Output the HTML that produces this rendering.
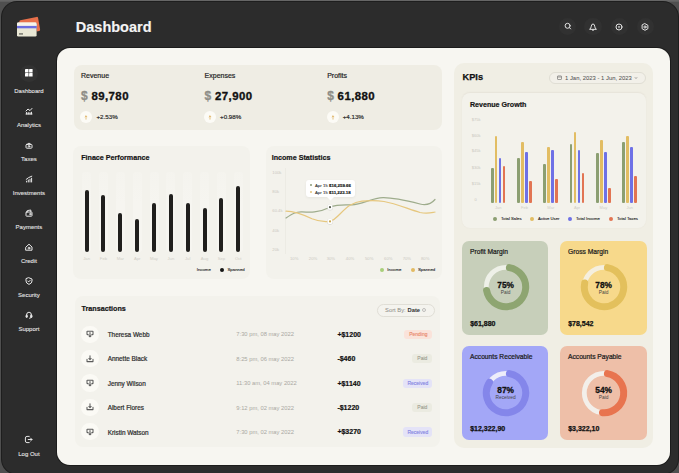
<!DOCTYPE html>
<html><head><meta charset="utf-8">
<style>
*{margin:0;padding:0;box-sizing:border-box}
html,body{width:679px;height:473px;overflow:hidden;background:#4f4f4f;font-family:"Liberation Sans",sans-serif}
.a{position:absolute}
.t{position:absolute;white-space:nowrap;line-height:1}
svg{position:absolute;overflow:visible}
</style></head><body>

<div class="a" style="left:0;top:0;width:679px;height:2px;background:linear-gradient(#6a6a6a,#5a5a5a)"></div>
<div class="a" style="left:1.5px;top:2px;width:676.5px;height:471.5px;border-radius:15px;background:#2c2c2c;box-shadow:0 0 0 1px #1e1e1e"></div>
<svg style="left:14px;top:14px" width="30" height="26" viewBox="0 0 30 26">
  <path d="M5.2 9 L5.3 7.4 Q5.4 6.5 6.3 6.3 L22.6 2.9 Q23.8 2.7 24.1 3.9 L26.1 15.4 Q26.3 16.6 25.1 16.9 L22.6 17.5 L22.6 9 Z" fill="#e8704b"/>
  <rect x="3" y="8.6" width="19.6" height="14" rx="1.4" fill="#e9e7d5"/>
  <path d="M3 11.9 V10 Q3 8.6 4.4 8.6 H21.2 Q22.6 8.6 22.6 10 V11.9 Z" fill="#f7f4ea"/>
  <rect x="3" y="11.9" width="19.6" height="2.4" fill="#6b6ee0"/>
  <rect x="5" y="19" width="4" height="1.8" fill="#8a8a80"/>
</svg>
<div class="t" style="left:75.80px;top:19.73px;font-size:14.5px;font-weight:700;color:#f4f4f4;-webkit-text-stroke:0.15px #f4f4f4;">Dashboard</div>
<div class="a" style="left:558.90px;top:17.80px;width:17.60px;height:17.60px;background:#313131;border-radius:50%;"></div>
<div class="a" style="left:584.40px;top:17.80px;width:17.60px;height:17.60px;background:#313131;border-radius:50%;"></div>
<div class="a" style="left:610.60px;top:17.80px;width:17.60px;height:17.60px;background:#313131;border-radius:50%;"></div>
<div class="a" style="left:636.60px;top:17.80px;width:17.60px;height:17.60px;background:#313131;border-radius:50%;"></div>
<svg style="left:563.7px;top:22.2px" width="8" height="8" viewBox="0 0 8 8" fill="none" stroke="#e4e4e4" stroke-width="1" stroke-linecap="round" stroke-linejoin="round"><circle cx="3.6" cy="3.8" r="2.5"/><path d="M5.5 5.7 L6.6 6.9"/></svg>
<svg style="left:589.2px;top:22.6px" width="8" height="8" viewBox="0 0 8 8" fill="none" stroke="#e4e4e4" stroke-width="1" stroke-linecap="round" stroke-linejoin="round"><path d="M0.9 6.1 Q2.1 5.2 2.3 3.2 Q2.5 1 4 1 Q5.5 1 5.7 3.2 Q5.9 5.2 7.1 6.1 Z"/><path d="M3.4 7.1 H4.6"/></svg>
<svg style="left:615.4px;top:22.9px" width="8" height="8" viewBox="0 0 8 8" fill="none" stroke="#e4e4e4" stroke-width="1" stroke-linecap="round" stroke-linejoin="round"><circle cx="4" cy="4" r="3"/><path d="M3.3 3.6 H4.7 M3.5 4.7 H4.5" stroke-width="0.7"/></svg>
<svg style="left:641.0px;top:22.5px" width="8" height="8" viewBox="0 0 8 8" fill="none" stroke="#e4e4e4" stroke-width="1" stroke-linecap="round" stroke-linejoin="round"><path d="M4 0.7 L6.9 2.3 V5.7 L4 7.3 L1.1 5.7 V2.3 Z"/><circle cx="4" cy="4" r="1.1"/></svg>
<div class="a" style="left:20.20px;top:64.50px;width:17.40px;height:17.40px;background:#323232;border-radius:50%;"></div>
<svg style="left:25.099999999999998px;top:69.4px" width="7.6" height="7.6" viewBox="0 0 8 8"><rect x="0" y="0" width="3.7" height="3.7" rx=".4" fill="#fff"/><rect x="4.3" y="0" width="3.7" height="3.7" rx=".4" fill="#fff"/><rect x="0" y="4.3" width="3.7" height="3.7" rx=".4" fill="#fff"/><rect x="4.3" y="4.3" width="3.7" height="3.7" rx=".4" fill="#fff"/></svg>
<div class="t" style="left:-71.10px;width:200px;text-align:center;top:87.62px;font-size:6.0px;font-weight:400;color:#e4e4e4;-webkit-text-stroke:0.1px #e4e4e4;">Dashboard</div>
<div class="t" style="left:-71.10px;width:200px;text-align:center;top:121.72px;font-size:6.0px;font-weight:400;color:#e4e4e4;-webkit-text-stroke:0.1px #e4e4e4;">Analytics</div>
<svg style="left:24.9px;top:106.80px" width="8" height="8" viewBox="0 0 8 8" fill="none" stroke="#e8e8e8" stroke-width="1" stroke-linecap="round" stroke-linejoin="round"><path d="M1 4 L3 2 L5 3.6 L7 1.4"/><path d="M1 7 H7 M1.6 5.4 V7 M3.3 5.6 V7 M5 5.6 V7 M6.5 5.2 V7"/></svg>
<div class="t" style="left:-71.10px;width:200px;text-align:center;top:155.82px;font-size:6.0px;font-weight:400;color:#e4e4e4;-webkit-text-stroke:0.1px #e4e4e4;">Taxes</div>
<svg style="left:24.9px;top:140.90px" width="8" height="8" viewBox="0 0 8 8" fill="none" stroke="#e8e8e8" stroke-width="1" stroke-linecap="round" stroke-linejoin="round"><path d="M2.2 3.2 Q4 0.6 5.8 3.2"/><rect x="1" y="3.4" width="6" height="3.8" rx="0.8"/><circle cx="4" cy="5.3" r="0.8"/></svg>
<div class="t" style="left:-71.10px;width:200px;text-align:center;top:189.92px;font-size:6.0px;font-weight:400;color:#e4e4e4;-webkit-text-stroke:0.1px #e4e4e4;">Investments</div>
<svg style="left:24.9px;top:175.00px" width="8" height="8" viewBox="0 0 8 8" fill="none" stroke="#e8e8e8" stroke-width="1" stroke-linecap="round" stroke-linejoin="round"><path d="M1.2 4.4 L3.6 2.6 L6.8 1.2"/><path d="M1.6 7 V6.2 M3.3 7 V5 M5 7 V4.2 M6.6 7 V3.2"/></svg>
<div class="t" style="left:-71.10px;width:200px;text-align:center;top:224.02px;font-size:6.0px;font-weight:400;color:#e4e4e4;-webkit-text-stroke:0.1px #e4e4e4;">Payments</div>
<svg style="left:24.9px;top:209.10px" width="8" height="8" viewBox="0 0 8 8" fill="none" stroke="#e8e8e8" stroke-width="1" stroke-linecap="round" stroke-linejoin="round"><rect x="1" y="3" width="6" height="4.2" rx="0.6"/><path d="M2.3 3 V1.6 L5.8 1 V3"/><circle cx="5.3" cy="5.1" r="0.7"/></svg>
<div class="t" style="left:-71.10px;width:200px;text-align:center;top:258.12px;font-size:6.0px;font-weight:400;color:#e4e4e4;-webkit-text-stroke:0.1px #e4e4e4;">Credit</div>
<svg style="left:24.9px;top:243.20px" width="8" height="8" viewBox="0 0 8 8" fill="none" stroke="#e8e8e8" stroke-width="1" stroke-linecap="round" stroke-linejoin="round"><path d="M1 4 L4 1.2 L7 4 V7.2 H1 Z"/><circle cx="4" cy="5.1" r="0.9"/></svg>
<div class="t" style="left:-71.10px;width:200px;text-align:center;top:292.22px;font-size:6.0px;font-weight:400;color:#e4e4e4;-webkit-text-stroke:0.1px #e4e4e4;">Security</div>
<svg style="left:24.9px;top:277.30px" width="8" height="8" viewBox="0 0 8 8" fill="none" stroke="#e8e8e8" stroke-width="1" stroke-linecap="round" stroke-linejoin="round"><path d="M4 0.8 L7 2 V4 Q7 6.3 4 7.4 Q1 6.3 1 4 V2 Z"/><path d="M2.8 4 L3.7 4.9 L5.3 3.2"/></svg>
<div class="t" style="left:-71.10px;width:200px;text-align:center;top:326.32px;font-size:6.0px;font-weight:400;color:#e4e4e4;-webkit-text-stroke:0.1px #e4e4e4;">Support</div>
<svg style="left:24.9px;top:311.40px" width="8" height="8" viewBox="0 0 8 8" fill="none" stroke="#e8e8e8" stroke-width="1" stroke-linecap="round" stroke-linejoin="round"><path d="M1.6 4.6 V4 Q1.6 1.2 4 1.2 Q6.4 1.2 6.4 4 V4.6"/><rect x="1" y="4.2" width="1.3" height="2.2" rx=".4" fill="#e4e4e4"/><rect x="5.7" y="4.2" width="1.3" height="2.2" rx=".4" fill="#e4e4e4"/><path d="M6.2 6.4 Q6.2 7.3 4.6 7.3"/></svg>
<svg style="left:24.4px;top:435.3px" width="9" height="9" viewBox="0 0 9 9" fill="none" stroke="#e4e4e4" stroke-width="1" stroke-linecap="round" stroke-linejoin="round"><path d="M5.2 1.4 H3 Q1.4 1.4 1.4 3 V6 Q1.4 7.6 3 7.6 H5.2"/><path d="M4.2 4.5 H8 M6.6 3.1 L8 4.5 L6.6 5.9"/></svg>
<div class="t" style="left:-71.10px;width:200px;text-align:center;top:450.92px;font-size:6.0px;font-weight:400;color:#e4e4e4;-webkit-text-stroke:0.1px #e4e4e4;">Log Out</div>
<div class="a" style="left:57.4px;top:47.9px;width:612.2px;height:416.7px;border-radius:13px;background:#f7f6f1;box-shadow:0 0 0 1px #1c1c1c"></div>
<div class="a" style="left:74.00px;top:64.50px;width:368.30px;height:65.00px;background:#efede4;border-radius:8px;"></div>
<div class="t" style="left:81.00px;top:71.57px;font-size:7.0px;font-weight:400;color:#1f1f1f;-webkit-text-stroke:0.2px #1f1f1f;">Revenue</div>
<div class="t" style="left:81.00px;top:90.44px;font-size:12.0px;font-weight:700;color:#8e8d87;-webkit-text-stroke:0.3px #8e8d87;">$</div>
<div class="t" style="left:91.40px;top:90.85px;font-size:11.4px;font-weight:700;color:#111;letter-spacing:0.45px;-webkit-text-stroke:0.35px #111;">89,780</div>
<div class="a" style="left:80.40px;top:111.10px;width:12.00px;height:12.00px;background:#fcfbf6;border-radius:50%;"></div>
<svg style="left:84.4px;top:114.8px" width="4" height="5" viewBox="0 0 4 5" fill="none" stroke="#dcae5a" stroke-width="0.75" stroke-linecap="round"><path d="M2 4.2 V0.9 M1.1 1.8 L2 0.9 L2.9 1.8"/></svg>
<div class="t" style="left:96.50px;top:114.35px;font-size:6.2px;font-weight:400;color:#2a2a2a;-webkit-text-stroke:0.18px #2a2a2a;">+2.53%</div>
<div class="t" style="left:204.60px;top:71.57px;font-size:7.0px;font-weight:400;color:#1f1f1f;-webkit-text-stroke:0.2px #1f1f1f;">Expenses</div>
<div class="t" style="left:204.60px;top:90.44px;font-size:12.0px;font-weight:700;color:#8e8d87;-webkit-text-stroke:0.3px #8e8d87;">$</div>
<div class="t" style="left:215.00px;top:90.85px;font-size:11.4px;font-weight:700;color:#111;letter-spacing:0.45px;-webkit-text-stroke:0.35px #111;">27,900</div>
<div class="a" style="left:204.00px;top:111.10px;width:12.00px;height:12.00px;background:#fcfbf6;border-radius:50%;"></div>
<svg style="left:208.0px;top:114.8px" width="4" height="5" viewBox="0 0 4 5" fill="none" stroke="#dcae5a" stroke-width="0.75" stroke-linecap="round"><path d="M2 4.2 V0.9 M1.1 1.8 L2 0.9 L2.9 1.8"/></svg>
<div class="t" style="left:220.10px;top:114.35px;font-size:6.2px;font-weight:400;color:#2a2a2a;-webkit-text-stroke:0.18px #2a2a2a;">+0.98%</div>
<div class="t" style="left:327.20px;top:71.57px;font-size:7.0px;font-weight:400;color:#1f1f1f;-webkit-text-stroke:0.2px #1f1f1f;">Profits</div>
<div class="t" style="left:327.20px;top:90.44px;font-size:12.0px;font-weight:700;color:#8e8d87;-webkit-text-stroke:0.3px #8e8d87;">$</div>
<div class="t" style="left:337.60px;top:90.85px;font-size:11.4px;font-weight:700;color:#111;letter-spacing:0.45px;-webkit-text-stroke:0.35px #111;">61,880</div>
<div class="a" style="left:326.60px;top:111.10px;width:12.00px;height:12.00px;background:#fcfbf6;border-radius:50%;"></div>
<svg style="left:330.59999999999997px;top:114.8px" width="4" height="5" viewBox="0 0 4 5" fill="none" stroke="#dcae5a" stroke-width="0.75" stroke-linecap="round"><path d="M2 4.2 V0.9 M1.1 1.8 L2 0.9 L2.9 1.8"/></svg>
<div class="t" style="left:342.70px;top:114.35px;font-size:6.2px;font-weight:400;color:#2a2a2a;-webkit-text-stroke:0.18px #2a2a2a;">+4.13%</div>
<div class="a" style="left:72.60px;top:146.00px;width:177.90px;height:132.60px;background:#f3f2ec;border-radius:8px;"></div>
<div class="t" style="left:81.20px;top:154.85px;font-size:7.15px;font-weight:700;color:#151515;-webkit-text-stroke:0.2px #151515;">Finace Performance</div>
<div class="a" style="left:82.10px;top:171.80px;width:9.00px;height:80.00px;background:linear-gradient(rgba(248,247,243,0.3),#f6f5f0 40%);border-radius:3px;"></div>
<div class="a" style="left:84.55px;top:189.80px;width:4.10px;height:61.80px;background:#201f1d;border-radius:2.05px;"></div>
<div class="t" style="left:-13.40px;width:200px;text-align:center;top:256.74px;font-size:4.2px;font-weight:400;color:#cfcdc6;">Jan</div>
<div class="a" style="left:98.95px;top:171.80px;width:9.00px;height:80.00px;background:linear-gradient(rgba(248,247,243,0.3),#f6f5f0 40%);border-radius:3px;"></div>
<div class="a" style="left:101.40px;top:195.00px;width:4.10px;height:56.60px;background:#201f1d;border-radius:2.05px;"></div>
<div class="t" style="left:3.45px;width:200px;text-align:center;top:256.74px;font-size:4.2px;font-weight:400;color:#cfcdc6;">Feb</div>
<div class="a" style="left:115.80px;top:171.80px;width:9.00px;height:80.00px;background:linear-gradient(rgba(248,247,243,0.3),#f6f5f0 40%);border-radius:3px;"></div>
<div class="a" style="left:118.25px;top:212.60px;width:4.10px;height:39.00px;background:#201f1d;border-radius:2.05px;"></div>
<div class="t" style="left:20.30px;width:200px;text-align:center;top:256.74px;font-size:4.2px;font-weight:400;color:#cfcdc6;">Mar</div>
<div class="a" style="left:132.65px;top:171.80px;width:9.00px;height:80.00px;background:linear-gradient(rgba(248,247,243,0.3),#f6f5f0 40%);border-radius:3px;"></div>
<div class="a" style="left:135.10px;top:219.40px;width:4.10px;height:32.20px;background:#201f1d;border-radius:2.05px;"></div>
<div class="t" style="left:37.15px;width:200px;text-align:center;top:256.74px;font-size:4.2px;font-weight:400;color:#cfcdc6;">Apr</div>
<div class="a" style="left:149.50px;top:171.80px;width:9.00px;height:80.00px;background:linear-gradient(rgba(248,247,243,0.3),#f6f5f0 40%);border-radius:3px;"></div>
<div class="a" style="left:151.95px;top:203.20px;width:4.10px;height:48.40px;background:#201f1d;border-radius:2.05px;"></div>
<div class="t" style="left:54.00px;width:200px;text-align:center;top:256.74px;font-size:4.2px;font-weight:400;color:#cfcdc6;">May</div>
<div class="a" style="left:166.35px;top:171.80px;width:9.00px;height:80.00px;background:linear-gradient(rgba(248,247,243,0.3),#f6f5f0 40%);border-radius:3px;"></div>
<div class="a" style="left:168.80px;top:193.70px;width:4.10px;height:57.90px;background:#201f1d;border-radius:2.05px;"></div>
<div class="t" style="left:70.85px;width:200px;text-align:center;top:256.74px;font-size:4.2px;font-weight:400;color:#cfcdc6;">Jun</div>
<div class="a" style="left:183.20px;top:171.80px;width:9.00px;height:80.00px;background:linear-gradient(rgba(248,247,243,0.3),#f6f5f0 40%);border-radius:3px;"></div>
<div class="a" style="left:185.65px;top:203.20px;width:4.10px;height:48.40px;background:#201f1d;border-radius:2.05px;"></div>
<div class="t" style="left:87.70px;width:200px;text-align:center;top:256.74px;font-size:4.2px;font-weight:400;color:#cfcdc6;">Jul</div>
<div class="a" style="left:200.05px;top:171.80px;width:9.00px;height:80.00px;background:linear-gradient(rgba(248,247,243,0.3),#f6f5f0 40%);border-radius:3px;"></div>
<div class="a" style="left:202.50px;top:208.00px;width:4.10px;height:43.60px;background:#201f1d;border-radius:2.05px;"></div>
<div class="t" style="left:104.55px;width:200px;text-align:center;top:256.74px;font-size:4.2px;font-weight:400;color:#cfcdc6;">Aug</div>
<div class="a" style="left:216.90px;top:171.80px;width:9.00px;height:80.00px;background:linear-gradient(rgba(248,247,243,0.3),#f6f5f0 40%);border-radius:3px;"></div>
<div class="a" style="left:219.35px;top:198.00px;width:4.10px;height:53.60px;background:#201f1d;border-radius:2.05px;"></div>
<div class="t" style="left:121.40px;width:200px;text-align:center;top:256.74px;font-size:4.2px;font-weight:400;color:#cfcdc6;">Sep</div>
<div class="a" style="left:233.75px;top:171.80px;width:9.00px;height:80.00px;background:linear-gradient(rgba(248,247,243,0.3),#f6f5f0 40%);border-radius:3px;"></div>
<div class="a" style="left:236.20px;top:186.30px;width:4.10px;height:65.30px;background:#201f1d;border-radius:2.05px;"></div>
<div class="t" style="left:138.25px;width:200px;text-align:center;top:256.74px;font-size:4.2px;font-weight:400;color:#cfcdc6;">Oct</div>
<div class="t" style="left:196.70px;top:267.96px;font-size:4.3px;font-weight:400;color:#222;-webkit-text-stroke:0.1px #222;">Income</div>
<div class="a" style="left:220.00px;top:268.00px;width:4.20px;height:4.20px;background:#151515;border-radius:50%;"></div>
<div class="t" style="left:227.50px;top:267.96px;font-size:4.3px;font-weight:400;color:#222;-webkit-text-stroke:0.1px #222;">Spanned</div>
<div class="a" style="left:265.70px;top:146.00px;width:176.00px;height:132.60px;background:#f3f2ec;border-radius:8px;"></div>
<div class="t" style="left:271.70px;top:154.65px;font-size:7.15px;font-weight:700;color:#151515;-webkit-text-stroke:0.2px #151515;">Income Statistics</div>
<div class="t" style="left:272.30px;top:170.54px;font-size:4.2px;font-weight:400;color:#cac8c1;">100k</div>
<div class="t" style="left:272.30px;top:190.14px;font-size:4.2px;font-weight:400;color:#cac8c1;">80k</div>
<div class="t" style="left:272.30px;top:209.34px;font-size:4.2px;font-weight:400;color:#cac8c1;">60.4k</div>
<div class="t" style="left:272.30px;top:228.94px;font-size:4.2px;font-weight:400;color:#cac8c1;">40k</div>
<div class="t" style="left:272.30px;top:248.34px;font-size:4.2px;font-weight:400;color:#cac8c1;">20k</div>
<div class="a" style="left:285.30px;top:168.00px;width:0.60px;height:86.00px;background:#ecebe4;border-radius:0px;"></div>
<div class="t" style="left:194.20px;width:200px;text-align:center;top:256.64px;font-size:4.2px;font-weight:400;color:#cbc9c2;">10%</div>
<div class="t" style="left:213.00px;width:200px;text-align:center;top:256.64px;font-size:4.2px;font-weight:400;color:#cbc9c2;">20%</div>
<div class="t" style="left:230.90px;width:200px;text-align:center;top:256.64px;font-size:4.2px;font-weight:400;color:#cbc9c2;">30%</div>
<div class="t" style="left:250.00px;width:200px;text-align:center;top:256.64px;font-size:4.2px;font-weight:400;color:#cbc9c2;">40%</div>
<div class="t" style="left:269.20px;width:200px;text-align:center;top:256.64px;font-size:4.2px;font-weight:400;color:#cbc9c2;">50%</div>
<div class="t" style="left:288.30px;width:200px;text-align:center;top:256.64px;font-size:4.2px;font-weight:400;color:#cbc9c2;">60%</div>
<div class="t" style="left:306.90px;width:200px;text-align:center;top:256.64px;font-size:4.2px;font-weight:400;color:#cbc9c2;">70%</div>
<div class="t" style="left:325.20px;width:200px;text-align:center;top:256.64px;font-size:4.2px;font-weight:400;color:#cbc9c2;">80%</div>
<svg style="left:0;top:0" width="679" height="473" viewBox="0 0 679 473" fill="none" stroke-linecap="round"><path d="M286 218 C292 214 296 211.5 302 211.8 C310 212.5 318 213 330 207.2 C338 204 344 205 352 204.8 C362 204.5 372 198 383 197.7 C394 197.5 408 201 420 204 C428 206 432 203 435 199.5" stroke="#9eac8c" stroke-width="1.2"/><path d="M286 211.2 C296 211.5 304 215 312 218.8 C320 222 326 222 330 221.4 C336 220.5 342 210 350 205.3 C354 203 357 201.8 362 201.2 C372 200.2 378 200.6 384 201.5 C396 203.5 408 209 420 212.5 C428 214 432 212.5 435 212" stroke="#e6c77e" stroke-width="1.2"/></svg>
<div class="a" style="left:306.2px;top:179.6px;width:48.6px;height:17.4px;background:#fff;border-radius:3px;box-shadow:0 1px 3px rgba(0,0,0,0.06)"></div>
<svg style="left:326.5px;top:196.9px" width="7" height="4" viewBox="0 0 7 4"><path d="M0 0 L3.5 3.4 L7 0 Z" fill="#fff"/></svg>
<div class="a" style="left:310.30px;top:184.30px;width:2.20px;height:2.20px;background:#8a9a77;border-radius:50%;"></div>
<div class="t" style="left:315.00px;top:183.96px;font-size:4.3px;font-weight:400;color:#333;-webkit-text-stroke:0.1px #333;">Apr 15</div>
<div class="t" style="left:329.00px;top:183.88px;font-size:4.4px;font-weight:700;color:#111;-webkit-text-stroke:0.15px #111;">$16,259.66</div>
<div class="a" style="left:310.30px;top:191.00px;width:2.20px;height:2.20px;background:#e3c27a;border-radius:50%;"></div>
<div class="t" style="left:315.00px;top:190.66px;font-size:4.3px;font-weight:400;color:#333;-webkit-text-stroke:0.1px #333;">Apr 15</div>
<div class="t" style="left:329.00px;top:190.58px;font-size:4.4px;font-weight:700;color:#111;-webkit-text-stroke:0.15px #111;">$11,223.18</div>
<svg style="left:0;top:0" width="679" height="473" viewBox="0 0 679 473"><defs><filter id="sh" x="-1" y="-1" width="3" height="3"><feGaussianBlur stdDeviation="0.6"/></filter></defs><circle cx="330" cy="207.6" r="3" fill="rgba(0,0,0,0.12)" filter="url(#sh)"/><circle cx="330" cy="207.2" r="2.6" fill="#fff"/><circle cx="330" cy="207.2" r="1.1" fill="#555a4c"/><circle cx="330" cy="221.8" r="3" fill="rgba(0,0,0,0.12)" filter="url(#sh)"/><circle cx="330" cy="221.4" r="2.6" fill="#fff"/><circle cx="330" cy="221.4" r="1.1" fill="#c9a853"/></svg>
<div class="a" style="left:379.80px;top:268.40px;width:4.00px;height:4.00px;background:#a8cf7a;border-radius:50%;"></div>
<div class="t" style="left:387.30px;top:268.26px;font-size:4.3px;font-weight:400;color:#222;-webkit-text-stroke:0.1px #222;">Income</div>
<div class="a" style="left:410.80px;top:268.40px;width:4.00px;height:4.00px;background:#e3bb63;border-radius:50%;"></div>
<div class="t" style="left:418.00px;top:268.26px;font-size:4.3px;font-weight:400;color:#222;-webkit-text-stroke:0.1px #222;">Spanned</div>
<div class="a" style="left:75.30px;top:296.00px;width:364.90px;height:151.00px;background:#f3f2ec;border-radius:8px;"></div>
<div class="t" style="left:81.50px;top:304.81px;font-size:7.2px;font-weight:700;color:#151515;-webkit-text-stroke:0.2px #151515;">Transactions</div>
<div class="a" style="left:376.8px;top:303.8px;width:58.3px;height:12.8px;border-radius:6.4px;border:0.8px solid #e0ded6;background:#f4f3ee"></div>
<div class="t" style="left:385.10px;top:308.09px;font-size:5.8px;font-weight:400;color:#8a8a85;">Sort By:</div>
<div class="t" style="left:407.50px;top:308.09px;font-size:5.8px;font-weight:700;color:#333;">Date</div>
<svg style="left:422.2px;top:308.2px" width="4" height="4" viewBox="0 0 4 4" fill="none" stroke="#999" stroke-width="0.6"><circle cx="2" cy="2" r="1.5"/></svg>
<div class="a" style="left:81.40px;top:325.50px;width:17.20px;height:17.20px;background:#fbfaf5;border-radius:50%;"></div>
<svg style="left:86px;top:330.10px" width="8" height="8" viewBox="0 0 8 8" fill="none" stroke="#5c5c5c" stroke-width="1.05" stroke-linecap="round" stroke-linejoin="round"><path d="M2.2 4.6 H1.4 Q1 4.6 1 4.2 V1.6 Q1 1.2 1.4 1.2 H6.6 Q7 1.2 7 1.6 V4.2 Q7 4.6 6.6 4.6 H5.8"/><path d="M4 2.6 V6.8 M3 5.8 L4 6.8 L5 5.8"/></svg>
<div class="t" style="left:107.70px;top:331.88px;font-size:6.4px;font-weight:400;color:#2c2c2c;-webkit-text-stroke:0.2px #2c2c2c;">Theresa Webb</div>
<div class="t" style="left:236.30px;top:332.39px;font-size:5.8px;font-weight:400;color:#a9a8a2;">7:30 pm, 08 may 2022</div>
<div class="t" style="left:337.40px;top:330.67px;font-size:7px;font-weight:700;color:#111;-webkit-text-stroke:0.2px #111;">+$1200</div>
<div class="a" style="left:404.20px;top:329.60px;width:28.30px;height:9.20px;background:#fae3da;border-radius:3px;"></div>
<div class="t" style="left:318.35px;width:200px;text-align:center;top:331.77px;font-size:5.0px;font-weight:400;color:#e98466;-webkit-text-stroke:0.1px #e98466;">Pending</div>
<div class="a" style="left:81.40px;top:349.95px;width:17.20px;height:17.20px;background:#fbfaf5;border-radius:50%;"></div>
<svg style="left:86px;top:354.55px" width="8" height="8" viewBox="0 0 8 8" fill="none" stroke="#5c5c5c" stroke-width="1.05" stroke-linecap="round" stroke-linejoin="round"><path d="M1 4.2 V6.6 H7 V4.2"/><path d="M4 0.8 V4.6 M2.8 3.5 L4 4.7 L5.2 3.5"/></svg>
<div class="t" style="left:107.70px;top:356.33px;font-size:6.4px;font-weight:400;color:#2c2c2c;-webkit-text-stroke:0.2px #2c2c2c;">Annette Black</div>
<div class="t" style="left:236.30px;top:356.84px;font-size:5.8px;font-weight:400;color:#a9a8a2;">8:25 pm, 06 may 2022</div>
<div class="t" style="left:337.40px;top:355.12px;font-size:7px;font-weight:700;color:#111;-webkit-text-stroke:0.2px #111;">-$460</div>
<div class="a" style="left:412.20px;top:354.05px;width:20.30px;height:9.20px;background:#ebebe1;border-radius:3px;"></div>
<div class="t" style="left:322.35px;width:200px;text-align:center;top:356.22px;font-size:5.0px;font-weight:400;color:#9c9c90;-webkit-text-stroke:0.1px #9c9c90;">Paid</div>
<div class="a" style="left:81.40px;top:374.40px;width:17.20px;height:17.20px;background:#fbfaf5;border-radius:50%;"></div>
<svg style="left:86px;top:379.00px" width="8" height="8" viewBox="0 0 8 8" fill="none" stroke="#5c5c5c" stroke-width="1.05" stroke-linecap="round" stroke-linejoin="round"><path d="M2.2 4.6 H1.4 Q1 4.6 1 4.2 V1.6 Q1 1.2 1.4 1.2 H6.6 Q7 1.2 7 1.6 V4.2 Q7 4.6 6.6 4.6 H5.8"/><path d="M4 2.6 V6.8 M3 5.8 L4 6.8 L5 5.8"/></svg>
<div class="t" style="left:107.70px;top:380.78px;font-size:6.4px;font-weight:400;color:#2c2c2c;-webkit-text-stroke:0.2px #2c2c2c;">Jenny Wilson</div>
<div class="t" style="left:236.30px;top:381.29px;font-size:5.8px;font-weight:400;color:#a9a8a2;">11:30 am, 04 may 2022</div>
<div class="t" style="left:337.40px;top:379.57px;font-size:7px;font-weight:700;color:#111;-webkit-text-stroke:0.2px #111;">+$1140</div>
<div class="a" style="left:403.20px;top:378.50px;width:29.30px;height:9.20px;background:#e4e3f7;border-radius:3px;"></div>
<div class="t" style="left:317.85px;width:200px;text-align:center;top:380.67px;font-size:5.0px;font-weight:400;color:#7f81e2;-webkit-text-stroke:0.1px #7f81e2;">Received</div>
<div class="a" style="left:81.40px;top:398.85px;width:17.20px;height:17.20px;background:#fbfaf5;border-radius:50%;"></div>
<svg style="left:86px;top:403.45px" width="8" height="8" viewBox="0 0 8 8" fill="none" stroke="#5c5c5c" stroke-width="1.05" stroke-linecap="round" stroke-linejoin="round"><path d="M1 4.2 V6.6 H7 V4.2"/><path d="M4 0.8 V4.6 M2.8 3.5 L4 4.7 L5.2 3.5"/></svg>
<div class="t" style="left:107.70px;top:405.23px;font-size:6.4px;font-weight:400;color:#2c2c2c;-webkit-text-stroke:0.2px #2c2c2c;">Albert Flores</div>
<div class="t" style="left:236.30px;top:405.74px;font-size:5.8px;font-weight:400;color:#a9a8a2;">9:12 pm, 02 may 2022</div>
<div class="t" style="left:337.40px;top:404.02px;font-size:7px;font-weight:700;color:#111;-webkit-text-stroke:0.2px #111;">-$1220</div>
<div class="a" style="left:412.20px;top:402.95px;width:20.30px;height:9.20px;background:#ebebe1;border-radius:3px;"></div>
<div class="t" style="left:322.35px;width:200px;text-align:center;top:405.12px;font-size:5.0px;font-weight:400;color:#9c9c90;-webkit-text-stroke:0.1px #9c9c90;">Paid</div>
<div class="a" style="left:81.40px;top:423.30px;width:17.20px;height:17.20px;background:#fbfaf5;border-radius:50%;"></div>
<svg style="left:86px;top:427.90px" width="8" height="8" viewBox="0 0 8 8" fill="none" stroke="#5c5c5c" stroke-width="1.05" stroke-linecap="round" stroke-linejoin="round"><path d="M2.2 4.6 H1.4 Q1 4.6 1 4.2 V1.6 Q1 1.2 1.4 1.2 H6.6 Q7 1.2 7 1.6 V4.2 Q7 4.6 6.6 4.6 H5.8"/><path d="M4 2.6 V6.8 M3 5.8 L4 6.8 L5 5.8"/></svg>
<div class="t" style="left:107.70px;top:429.68px;font-size:6.4px;font-weight:400;color:#2c2c2c;-webkit-text-stroke:0.2px #2c2c2c;">Kristin Watson</div>
<div class="t" style="left:236.30px;top:430.19px;font-size:5.8px;font-weight:400;color:#a9a8a2;">7:30 pm, 02 may 2022</div>
<div class="t" style="left:337.40px;top:428.47px;font-size:7px;font-weight:700;color:#111;-webkit-text-stroke:0.2px #111;">+$3270</div>
<div class="a" style="left:403.20px;top:427.40px;width:29.30px;height:9.20px;background:#e4e3f7;border-radius:3px;"></div>
<div class="t" style="left:317.85px;width:200px;text-align:center;top:429.57px;font-size:5.0px;font-weight:400;color:#7f81e2;-webkit-text-stroke:0.1px #7f81e2;">Received</div>
<div class="a" style="left:454.30px;top:63.30px;width:199.10px;height:384.70px;background:#f0eee4;border-radius:10px;"></div>
<div class="t" style="left:462.60px;top:73.21px;font-size:9.2px;font-weight:700;color:#111;-webkit-text-stroke:0.25px #111;">KPIs</div>
<div class="a" style="left:549px;top:71.6px;width:97px;height:12.6px;border-radius:6.3px;border:0.8px solid #e0ded4;background:#f2f0e9"></div>
<svg style="left:557px;top:75.2px" width="5" height="5" viewBox="0 0 5 5" fill="none" stroke="#666" stroke-width="0.6"><rect x="0.5" y="0.9" width="4" height="3.6" rx="0.5"/><path d="M0.5 2 H4.5"/></svg>
<div class="t" style="left:565.00px;top:75.71px;font-size:5.9px;font-weight:400;color:#555;-webkit-text-stroke:0.05px #555;">1 Jan, 2023 - 1 Jun, 2023</div>
<svg style="left:633.6px;top:75.8px" width="4" height="4" viewBox="0 0 4 4" fill="none" stroke="#777" stroke-width="0.6"><path d="M0.8 1.2 L2 2.6 L3.2 1.2"/></svg>
<div class="a" style="left:461.80px;top:93.40px;width:184.70px;height:134.60px;background:#f3f2eb;border-radius:8px;box-shadow:0 -0.5px 1.5px rgba(120,100,90,0.07)"></div>
<div class="t" style="left:470.00px;top:102.49px;font-size:7.1px;font-weight:700;color:#151515;-webkit-text-stroke:0.2px #151515;">Revenue Growth</div>
<div class="t" style="left:471.80px;top:117.71px;font-size:4.0px;font-weight:400;color:#c9c7c0;">$75k</div>
<div class="t" style="left:471.80px;top:133.51px;font-size:4.0px;font-weight:400;color:#c9c7c0;">$60k</div>
<div class="t" style="left:471.80px;top:149.31px;font-size:4.0px;font-weight:400;color:#c9c7c0;">$45k</div>
<div class="t" style="left:471.80px;top:165.51px;font-size:4.0px;font-weight:400;color:#c9c7c0;">$30k</div>
<div class="t" style="left:471.80px;top:181.91px;font-size:4.0px;font-weight:400;color:#c9c7c0;">$15k</div>
<div class="t" style="left:375.50px;width:200px;text-align:center;top:197.61px;font-size:4.0px;font-weight:400;color:#c9c7c0;">0</div>
<div class="a" style="left:490.85px;top:167.80px;width:2.70px;height:34.90px;background:#8c9f72;border-radius:1px;"></div>
<div class="a" style="left:494.80px;top:135.50px;width:2.70px;height:67.20px;background:#e2bd63;border-radius:1px;"></div>
<div class="a" style="left:498.75px;top:157.80px;width:2.70px;height:44.90px;background:#6e71e6;border-radius:1px;"></div>
<div class="a" style="left:502.70px;top:166.00px;width:2.70px;height:36.70px;background:#e27553;border-radius:1px;"></div>
<div class="t" style="left:398.20px;width:200px;text-align:center;top:206.11px;font-size:4.0px;font-weight:400;color:#cfcdc6;">Jan</div>
<div class="a" style="left:517.15px;top:157.80px;width:2.70px;height:44.90px;background:#8c9f72;border-radius:1px;"></div>
<div class="a" style="left:521.10px;top:141.80px;width:2.70px;height:60.90px;background:#e2bd63;border-radius:1px;"></div>
<div class="a" style="left:525.05px;top:151.70px;width:2.70px;height:51.00px;background:#6e71e6;border-radius:1px;"></div>
<div class="a" style="left:529.00px;top:181.20px;width:2.70px;height:21.50px;background:#e27553;border-radius:1px;"></div>
<div class="t" style="left:424.50px;width:200px;text-align:center;top:206.11px;font-size:4.0px;font-weight:400;color:#cfcdc6;">Feb</div>
<div class="a" style="left:543.45px;top:163.50px;width:2.70px;height:39.20px;background:#8c9f72;border-radius:1px;"></div>
<div class="a" style="left:547.40px;top:146.50px;width:2.70px;height:56.20px;background:#e2bd63;border-radius:1px;"></div>
<div class="a" style="left:551.35px;top:149.80px;width:2.70px;height:52.90px;background:#6e71e6;border-radius:1px;"></div>
<div class="a" style="left:555.30px;top:179.30px;width:2.70px;height:23.40px;background:#e27553;border-radius:1px;"></div>
<div class="t" style="left:450.80px;width:200px;text-align:center;top:206.11px;font-size:4.0px;font-weight:400;color:#cfcdc6;">Mar</div>
<div class="a" style="left:569.75px;top:143.90px;width:2.70px;height:58.80px;background:#8c9f72;border-radius:1px;"></div>
<div class="a" style="left:573.70px;top:132.20px;width:2.70px;height:70.50px;background:#e2bd63;border-radius:1px;"></div>
<div class="a" style="left:577.65px;top:149.80px;width:2.70px;height:52.90px;background:#6e71e6;border-radius:1px;"></div>
<div class="a" style="left:581.60px;top:173.20px;width:2.70px;height:29.50px;background:#e27553;border-radius:1px;"></div>
<div class="t" style="left:477.10px;width:200px;text-align:center;top:206.11px;font-size:4.0px;font-weight:400;color:#cfcdc6;">Apr</div>
<div class="a" style="left:596.05px;top:152.50px;width:2.70px;height:50.20px;background:#8c9f72;border-radius:1px;"></div>
<div class="a" style="left:600.00px;top:140.40px;width:2.70px;height:62.30px;background:#e2bd63;border-radius:1px;"></div>
<div class="a" style="left:603.95px;top:151.70px;width:2.70px;height:51.00px;background:#6e71e6;border-radius:1px;"></div>
<div class="a" style="left:607.90px;top:188.10px;width:2.70px;height:14.60px;background:#e27553;border-radius:1px;"></div>
<div class="t" style="left:503.40px;width:200px;text-align:center;top:206.11px;font-size:4.0px;font-weight:400;color:#cfcdc6;">May</div>
<div class="a" style="left:622.35px;top:142.00px;width:2.70px;height:60.70px;background:#8c9f72;border-radius:1px;"></div>
<div class="a" style="left:626.30px;top:136.10px;width:2.70px;height:66.60px;background:#e2bd63;border-radius:1px;"></div>
<div class="a" style="left:630.25px;top:147.00px;width:2.70px;height:55.70px;background:#6e71e6;border-radius:1px;"></div>
<div class="a" style="left:634.20px;top:176.40px;width:2.70px;height:26.30px;background:#e27553;border-radius:1px;"></div>
<div class="t" style="left:529.70px;width:200px;text-align:center;top:206.11px;font-size:4.0px;font-weight:400;color:#cfcdc6;">Jun</div>
<div class="a" style="left:493.10px;top:217.10px;width:3.80px;height:3.80px;background:#8c9f72;border-radius:50%;"></div>
<div class="t" style="left:501.00px;top:216.94px;font-size:4.2px;font-weight:400;color:#222;-webkit-text-stroke:0.1px #222;">Total Sales</div>
<div class="a" style="left:530.00px;top:217.10px;width:3.80px;height:3.80px;background:#e2bd63;border-radius:50%;"></div>
<div class="t" style="left:538.00px;top:216.94px;font-size:4.2px;font-weight:400;color:#222;-webkit-text-stroke:0.1px #222;">Active User</div>
<div class="a" style="left:568.30px;top:217.10px;width:3.80px;height:3.80px;background:#6e71e6;border-radius:50%;"></div>
<div class="t" style="left:576.00px;top:216.94px;font-size:4.2px;font-weight:400;color:#222;-webkit-text-stroke:0.1px #222;">Total Income</div>
<div class="a" style="left:609.40px;top:217.10px;width:3.80px;height:3.80px;background:#e27553;border-radius:50%;"></div>
<div class="t" style="left:617.00px;top:216.94px;font-size:4.2px;font-weight:400;color:#222;-webkit-text-stroke:0.1px #222;">Total Taxes</div>
<div class="a" style="left:462.40px;top:240.90px;width:85.80px;height:93.80px;background:#c7cfba;border-radius:7px;"></div>
<div class="t" style="left:470.00px;top:248.73px;font-size:6.7px;font-weight:400;color:#1c1c1c;-webkit-text-stroke:0.22px #1c1c1c;">Profit Margin</div>
<svg style="left:480.59999999999997px;top:262.2px" width="50" height="50" viewBox="-25 -25 50 50" fill="none">
<circle cx="0" cy="0" r="19.7" stroke="#eef0e8" stroke-width="4.8"/>
<path d="M3.421 -19.401 A19.7 19.7 0 1 1 -19.401 3.421" stroke="#8ea571" stroke-width="7" stroke-linecap="round"/>
</svg>
<div class="t" style="left:405.60px;width:200px;text-align:center;top:281.07px;font-size:8.3px;font-weight:700;color:#111;-webkit-text-stroke:0.3px #111;">75%</div>
<div class="t" style="left:405.60px;width:200px;text-align:center;top:290.74px;font-size:4.8px;font-weight:400;color:#444;">Paid</div>
<div class="t" style="left:470.20px;top:319.57px;font-size:7px;font-weight:700;color:#111;-webkit-text-stroke:0.25px #111;">$61,880</div>
<div class="a" style="left:560.40px;top:240.90px;width:86.20px;height:93.80px;background:#f7d98b;border-radius:7px;"></div>
<div class="t" style="left:568.00px;top:248.73px;font-size:6.7px;font-weight:400;color:#1c1c1c;-webkit-text-stroke:0.22px #1c1c1c;">Gross Margin</div>
<svg style="left:578.6px;top:262.2px" width="50" height="50" viewBox="-25 -25 50 50" fill="none">
<circle cx="0" cy="0" r="19.7" stroke="#f5efde" stroke-width="4.8"/>
<path d="M3.421 -19.401 A19.7 19.7 0 1 1 -19.284 -4.029" stroke="#e3c05c" stroke-width="7" stroke-linecap="round"/>
</svg>
<div class="t" style="left:503.60px;width:200px;text-align:center;top:281.07px;font-size:8.3px;font-weight:700;color:#111;-webkit-text-stroke:0.3px #111;">78%</div>
<div class="t" style="left:503.60px;width:200px;text-align:center;top:290.74px;font-size:4.8px;font-weight:400;color:#444;">Paid</div>
<div class="t" style="left:568.20px;top:319.57px;font-size:7px;font-weight:700;color:#111;-webkit-text-stroke:0.25px #111;">$78,542</div>
<div class="a" style="left:462.40px;top:346.30px;width:85.80px;height:93.80px;background:#a3a7f7;border-radius:7px;"></div>
<div class="t" style="left:470.00px;top:354.13px;font-size:6.7px;font-weight:400;color:#1c1c1c;-webkit-text-stroke:0.22px #1c1c1c;">Accounts Receivable</div>
<svg style="left:480.59999999999997px;top:367.6px" width="50" height="50" viewBox="-25 -25 50 50" fill="none">
<circle cx="0" cy="0" r="19.7" stroke="#ededfa" stroke-width="4.8"/>
<path d="M3.421 -19.401 A19.7 19.7 0 1 1 -16.484 -10.787" stroke="#8486ea" stroke-width="7" stroke-linecap="round"/>
</svg>
<div class="t" style="left:405.60px;width:200px;text-align:center;top:386.47px;font-size:8.3px;font-weight:700;color:#111;-webkit-text-stroke:0.3px #111;">87%</div>
<div class="t" style="left:405.60px;width:200px;text-align:center;top:396.14px;font-size:4.8px;font-weight:400;color:#444;">Received</div>
<div class="t" style="left:470.20px;top:424.97px;font-size:7px;font-weight:700;color:#111;-webkit-text-stroke:0.25px #111;">$12,322,90</div>
<div class="a" style="left:560.40px;top:346.30px;width:86.20px;height:93.80px;background:#eebfa8;border-radius:7px;"></div>
<div class="t" style="left:568.00px;top:354.13px;font-size:6.7px;font-weight:400;color:#1c1c1c;-webkit-text-stroke:0.22px #1c1c1c;">Accounts Payable</div>
<svg style="left:578.6px;top:367.6px" width="50" height="50" viewBox="-25 -25 50 50" fill="none">
<circle cx="0" cy="0" r="19.7" stroke="#f3efea" stroke-width="4.8"/>
<path d="M3.421 -19.401 A19.7 19.7 0 0 1 -1.511 19.642" stroke="#e8744f" stroke-width="7" stroke-linecap="round"/>
</svg>
<div class="t" style="left:503.60px;width:200px;text-align:center;top:386.47px;font-size:8.3px;font-weight:700;color:#111;-webkit-text-stroke:0.3px #111;">54%</div>
<div class="t" style="left:503.60px;width:200px;text-align:center;top:396.14px;font-size:4.8px;font-weight:400;color:#444;">Paid</div>
<div class="t" style="left:568.20px;top:424.97px;font-size:7px;font-weight:700;color:#111;-webkit-text-stroke:0.25px #111;">$3,322,10</div>
</body></html>
